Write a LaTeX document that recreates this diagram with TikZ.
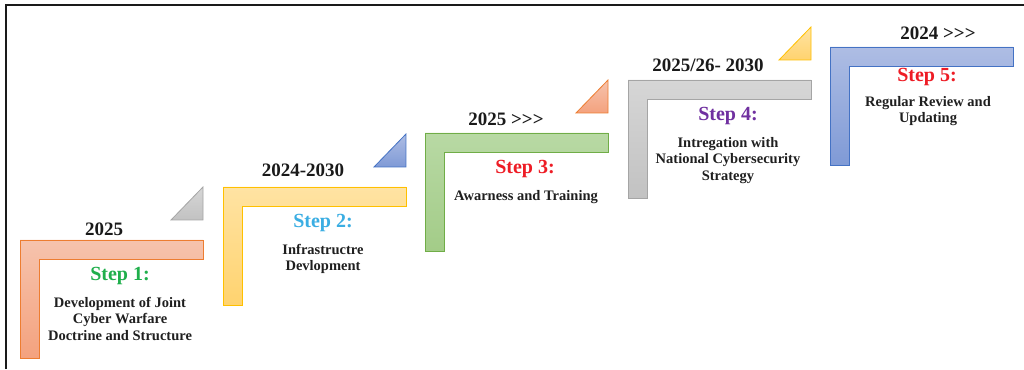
\documentclass[tikz,border=0pt]{standalone}
\usepackage{fontspec}
\setmainfont{Liberation Serif}
\usetikzlibrary{positioning}
\definecolor{orangeline}{HTML}{ED7D31}
\definecolor{orangetop}{HTML}{F6C3AD}
\definecolor{orangebot}{HTML}{F4A27E}
\definecolor{yellowline}{HTML}{FFC000}
\definecolor{yellowtop}{HTML}{FFE3A3}
\definecolor{yellowbot}{HTML}{FFD36F}
\definecolor{greenline}{HTML}{70AD47}
\definecolor{greentop}{HTML}{B8D9A4}
\definecolor{greenbot}{HTML}{A3CC88}
\definecolor{grayline}{HTML}{A5A5A5}
\definecolor{graytop}{HTML}{D6D6D6}
\definecolor{graybot}{HTML}{C2C2C2}
\definecolor{blueline}{HTML}{4472C4}
\definecolor{bluetop}{HTML}{AEBDE4}
\definecolor{bluebot}{HTML}{7F9AD6}
\definecolor{yeartext}{HTML}{1A1A1A}
\definecolor{desctext}{HTML}{1F1F1F}
\definecolor{stepgreen}{HTML}{1FAF4B}
\definecolor{stepblue}{HTML}{3BAEE3}
\definecolor{stepred}{HTML}{EE1C25}
\definecolor{steppurple}{HTML}{7030A0}
\newcommand{\more}{>{}>{}>}
\tikzset{
	stepbar/.style={line width=0.8pt, line join=miter},
	wedge/.style={line width=0.8pt, line join=miter},
	orangefill/.style={draw=orangeline, top color=orangetop, bottom color=orangebot},
	yellowfill/.style={draw=yellowline, top color=yellowtop, bottom color=yellowbot},
	greenfill/.style={draw=greenline, top color=greentop, bottom color=greenbot},
	grayfill/.style={draw=grayline, top color=graytop, bottom color=graybot},
	bluefill/.style={draw=blueline, top color=bluetop, bottom color=bluebot},
	yearlabel/.style={font=\fontsize{19}{22}\selectfont\bfseries, text=yeartext, inner sep=0pt},
	steplabel/.style={font=\fontsize{20}{24}\selectfont\bfseries, inner sep=0pt},
	steptext/.style={font=\fontsize{14.5}{16.5}\selectfont\bfseries, text=desctext, align=center, inner sep=0pt, anchor=north},
}
\begin{document}
\begin{tikzpicture}[x=1pt,y=1pt]
    \useasboundingbox (0,0) rectangle (1024,369);
    \fill[white] (0,0) rectangle (1024,369);
    \draw[line width=2.5pt, color=yeartext] (6,0) -- (6,364) -- (1024,364);

    \coordinate (c1) at (20,129);
    \coordinate[above right=53pt and 203pt of c1] (c2);
    \coordinate[above right=54pt and 202pt of c2] (c3);
    \coordinate[above right=53pt and 203pt of c3] (c4);
    \coordinate[above right=33pt and 202pt of c4] (c5);

    % the steps
    \draw[stepbar, orangefill] (c1) -- ++(183,0) -- ++(0,-19) -- ++(-164,0) -- ++(0,-99) -- ++(-19,0) -- cycle;
    \draw[stepbar, yellowfill] (c2) -- ++(183,0) -- ++(0,-19) -- ++(-164,0) -- ++(0,-99) -- ++(-19,0) -- cycle;
    \draw[stepbar, greenfill] (c3) -- ++(183,0) -- ++(0,-19) -- ++(-164,0) -- ++(0,-99) -- ++(-19,0) -- cycle;
    \draw[stepbar, grayfill] (c4) -- ++(183,0) -- ++(0,-19) -- ++(-164,0) -- ++(0,-99) -- ++(-19,0) -- cycle;
    \draw[stepbar, bluefill] (c5) -- ++(183,0) -- ++(0,-19) -- ++(-164,0) -- ++(0,-99) -- ++(-19,0) -- cycle;

    % the wedges
    \draw[wedge, grayfill] ([shift={(151,20)}]c1) -- ++(32,0) -- ++(0,33) -- cycle;
    \draw[wedge, bluefill] ([shift={(151,20)}]c2) -- ++(32,0) -- ++(0,33) -- cycle;
    \draw[wedge, orangefill] ([shift={(151,20)}]c3) -- ++(32,0) -- ++(0,33) -- cycle;
    \draw[wedge, yellowfill] ([shift={(151,20)}]c4) -- ++(32,0) -- ++(0,33) -- cycle;

    \node[yearlabel] (y1) at ([shift={(84,11)}]c1) {2025};
    \node[yearlabel] (y2) at ([shift={(80,17)}]c2) {2024-2030};
    \node[yearlabel] (y3) at ([shift={(81,14)}]c3) {2025 \more};
    \node[yearlabel] (y4) at ([shift={(80,15)}]c4) {2025/26- 2030};
    \node[yearlabel] (y5) at ([shift={(108,14)}]c5) {2024 \more};

    \node[steplabel, text=stepgreen] (s1) at ([shift={(100,-36)}]c1) {Step 1:};
    \node[steplabel, text=stepblue] (s2) at ([shift={(100,-36)}]c2) {Step 2:};
    \node[steplabel, text=stepred] (s3) at ([shift={(100,-36)}]c3) {Step 3:};
    \node[steplabel, text=steppurple] (s4) at ([shift={(100,-36)}]c4) {Step 4:};
    \node[steplabel, text=stepred] (s5) at ([shift={(97,-30)}]c5) {Step 5:};

    \node[steptext] (t1) at ([shift={(100,-57)}]c1) {Development of Joint\\Cyber Warfare\\Doctrine and Structure};
    \node[steptext] (t2) at ([shift={(100,-57)}]c2) {Infrastructre\\Devlopment};
    \node[steptext] (t3) at ([shift={(101,-57)}]c3) {Awarness and Training};
    \node[steptext] (t4) at ([shift={(100,-57)}]c4) {Intregation with\\National Cybersecurity\\Strategy};
    \node[steptext] (t5) at ([shift={(98,-49)}]c5) {Regular Review and\\Updating};
\end{tikzpicture}
\end{document}
